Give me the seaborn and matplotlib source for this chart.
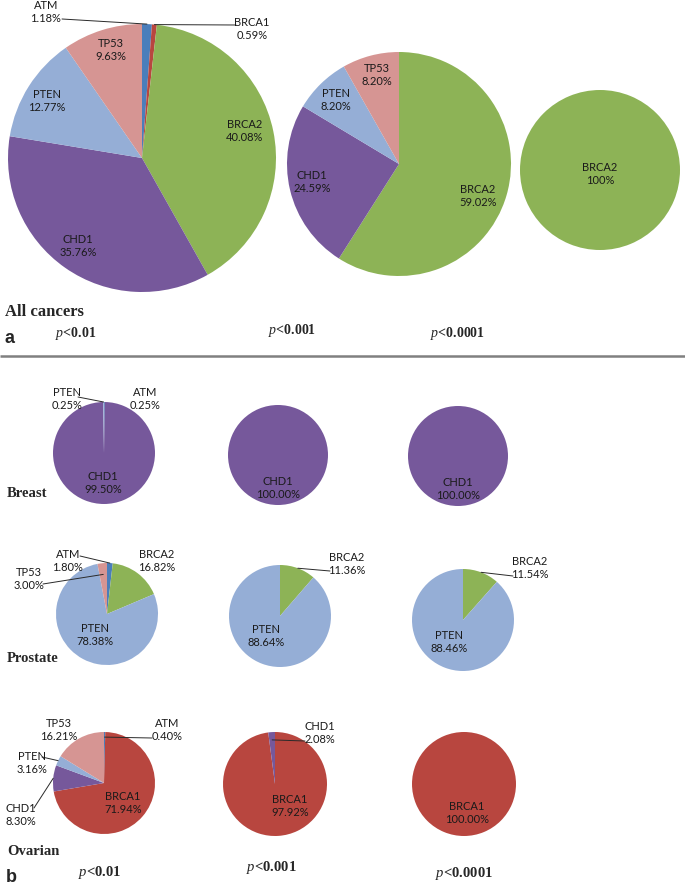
import numpy as np
import pandas as pd
import matplotlib.pyplot as plt
import seaborn as sns

# slices go clockwise from 12 o'clock, in the order Excel used
all_p01_genes = ["ATM", "BRCA1", "BRCA2", "CHD1", "PTEN", "TP53"]
all_p01_pct = [1.18, 0.59, 40.08, 35.76, 12.77, 9.63]
all_p001_genes = ["BRCA2", "CHD1", "PTEN", "TP53"]
all_p001_pct = [59.02, 24.59, 8.20, 8.20]
all_p0001_genes = ["BRCA2"]
all_p0001_pct = [100]

breast_p01_genes = ["ATM", "CHD1", "PTEN"]
breast_p01_pct = [0.25, 99.50, 0.25]
breast_p001_genes = ["CHD1"]
breast_p001_pct = [100.00]
breast_p0001_genes = ["CHD1"]
breast_p0001_pct = [100.00]

prostate_p01_genes = ["ATM", "BRCA2", "PTEN", "TP53"]
prostate_p01_pct = [1.80, 16.82, 78.38, 3.00]
prostate_p001_genes = ["BRCA2", "PTEN"]
prostate_p001_pct = [11.36, 88.64]
prostate_p0001_genes = ["BRCA2", "PTEN"]
prostate_p0001_pct = [11.54, 88.46]

ovarian_p01_genes = ["ATM", "BRCA1", "CHD1", "PTEN", "TP53"]
ovarian_p01_pct = [0.40, 71.94, 8.30, 3.16, 16.21]
ovarian_p001_genes = ["BRCA1", "CHD1"]
ovarian_p001_pct = [97.92, 2.08]
ovarian_p0001_genes = ["BRCA1"]
ovarian_p0001_pct = [100.00]

thresholds = ["0.01", "0.001", "0.0001"]
row_names = ["Breast", "Prostate", "Ovarian"]

GENE_COLORS = {
    "ATM": "#4A7EBB",
    "BRCA1": "#B8463F",
    "BRCA2": "#8DB356",
    "CHD1": "#76589B",
    "PTEN": "#95AED6",
    "TP53": "#D69593",
}

W, H = 685, 885


def Y(y):
    # layout below is in picture pixels (y down); axes are y up
    return H - y


# (genes, pct, centre x, centre y, radius, decimals, label layout)
# label layout per slice: (text x, text y, leader) ; leader = (line x, line y, frac of radius) or None
pies = [
    (all_p01_genes, all_p01_pct, 142, 158, 134, 2,
     [(46, 12, (62, 19, 1.0)), (252, 29, (236, 25, 1.0)), (245, 131, None),
      (78, 246, None), (47, 101, None), (111, 50, None)]),
    (all_p001_genes, all_p001_pct, 399, 164, 112, 2,
     [(478, 196, None), (312, 182, None), (336, 100, None), (377, 75, None)]),
    (all_p0001_genes, all_p0001_pct, 600, 170, 80, 0,
     [(600, 174, None)]),

    (breast_p01_genes, breast_p01_pct, 104, 453, 51, 2,
     [(145, 399, None), (103, 483, None), (67, 399, (78, 397, 1.0))]),
    (breast_p001_genes, breast_p001_pct, 278, 455, 50, 2,
     [(278, 488, None)]),
    (breast_p0001_genes, breast_p0001_pct, 458, 456, 50, 2,
     [(458, 489, None)]),

    (prostate_p01_genes, prostate_p01_pct, 107, 614, 51, 2,
     [(68, 561, (80, 556, 1.0)), (157, 561, None), (95, 635, None),
      (29, 579, (43, 584, 0.78))]),
    (prostate_p001_genes, prostate_p001_pct, 280, 616, 51, 2,
     [(347, 564, (330, 571, 1.0)), (266, 636, None)]),
    (prostate_p0001_genes, prostate_p0001_pct, 463, 620, 51, 2,
     [(530, 568, (513, 576, 1.0)), (449, 642, None)]),

    (ovarian_p01_genes, ovarian_p01_pct, 104, 783, 51, 2,
     [(167, 730, (152, 738, 0.9)), (123, 803, None), (21, 815, (34, 808, 1.0)),
      (32, 763, (42, 757, 1.0)), (59, 730, None)]),
    (ovarian_p001_genes, ovarian_p001_pct, 275, 784, 52, 2,
     [(290, 806, None), (320, 733, (305, 741, 0.85))]),
    (ovarian_p0001_genes, ovarian_p0001_pct, 464, 784, 52, 2,
     [(467, 813, None)]),
]

sns.set_theme(style="white")
LABEL_FONT = ["Lato", "DejaVu Sans"]
SERIF = ["Liberation Serif", "DejaVu Serif"]
plt.rcParams["font.family"] = LABEL_FONT
plt.rcParams["mathtext.fontset"] = "custom"
plt.rcParams["mathtext.it"] = "Liberation Serif:italic"
plt.rcParams["mathtext.rm"] = "Liberation Serif"

fig = plt.figure(figsize=(W / 100, H / 100), dpi=100, facecolor="white")
ax = fig.add_axes([0, 0, 1, 1])

for genes, pct, cx, cy, r, dec, layout in pies:
    df = pd.DataFrame({"gene": genes, "pct": pct})
    wedges, _ = ax.pie(df["pct"], colors=[GENE_COLORS[g] for g in df["gene"]],
                       startangle=90, counterclock=False,
                       center=(cx, Y(cy)), radius=r, frame=True,
                       wedgeprops=dict(linewidth=0))
    for w, (g, p), (tx, ty, leader) in zip(wedges, df.itertuples(index=False), layout):
        ax.text(tx, Y(ty), f"{g}\n{p:.{dec}f}%", ha="center", va="center",
                fontsize=8, color="#1a1a1a", linespacing=1.25, family=LABEL_FONT)
        if leader is not None:
            lx, ly, frac = leader
            mid = np.deg2rad((w.theta1 + w.theta2) / 2)
            ax_, ay_ = cx + frac * r * np.cos(mid), Y(cy) + frac * r * np.sin(mid)
            ax.plot([lx, ax_], [Y(ly), ay_], color="#2a2a2a", lw=0.7)

# panel a captions
ax.text(5, Y(316), "All cancers", fontsize=12, fontweight="bold", family=SERIF,
        ha="left", va="baseline")
ax.text(5, Y(343), "a", fontsize=13, fontweight="bold",
        family=["Liberation Sans", "DejaVu Sans"], ha="left", va="baseline")
for (x, y), t in zip([(55, 337), (268, 334), (430, 337)], thresholds):
    ax.text(x, Y(y), r"$\mathit{p}$<" + t, fontsize=10, fontweight="bold",
            family=SERIF, ha="left", va="baseline")

ax.plot([0, W], [Y(356), Y(356)], color="#808080", lw=1.8, solid_capstyle="butt")

# panel b captions
for (x, y), name in zip([(7, 497), (7, 662), (7, 855)], row_names):
    ax.text(x, Y(y), name, fontsize=10.5, fontweight="bold", family=SERIF,
            ha="left", va="baseline")
ax.text(6, Y(882), "b", fontsize=13, fontweight="bold",
        family=["Liberation Sans", "DejaVu Sans"], ha="left", va="baseline")
for (x, y), t in zip([(78, 876), (246, 871), (435, 877)], thresholds):
    ax.text(x, Y(y), r"$\mathit{p}$<" + t, fontsize=10.5, fontweight="bold",
            family=SERIF, ha="left", va="baseline")

ax.set_xlim(0, W)
ax.set_ylim(0, H)
ax.set_aspect("equal")
ax.axis("off")

fig.savefig("out.png", dpi=100, facecolor="white")
plt.close(fig)
